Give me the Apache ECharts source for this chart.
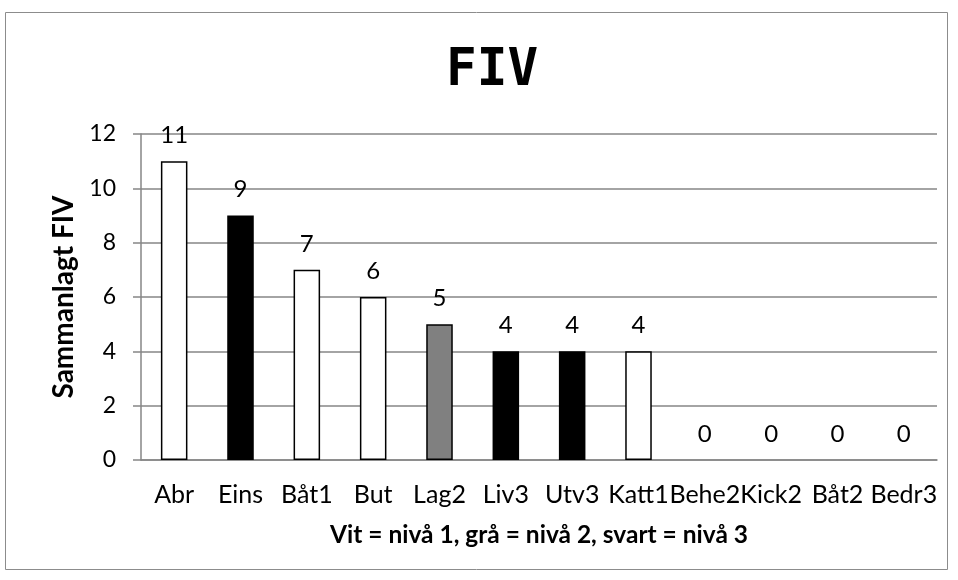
<!DOCTYPE html>
<html>
<head>
<meta charset="utf-8">
<script src="https://cdn.jsdelivr.net/npm/echarts@6/dist/echarts.min.js"></script>
<style>
  html, body { margin: 0; padding: 0; background: #fff; }
  #chart { width: 958px; height: 580px; }
</style>
</head>
<body>
<div id="chart"></div>
<script>
// Categories and their summed FIV values
const categories = ['Abr', 'Eins', 'Båt1', 'But', 'Lag2', 'Liv3', 'Utv3', 'Katt1', 'Behe2', 'Kick2', 'Båt2', 'Bedr3'];
const values = [11, 9, 7, 6, 5, 4, 4, 4, 0, 0, 0, 0];
// Level of each category: 1 = white, 2 = grey, 3 = black
const levels = [1, 3, 1, 1, 2, 3, 3, 1, 2, 2, 2, 3];
const yTicks = [0, 2, 4, 6, 8, 10, 12];

const levelFill = { 1: '#ffffff', 2: '#808080', 3: '#000000' };
const textFont = 'Lato, "Open Sans", sans-serif';

const chart = echarts.init(document.getElementById('chart'), null, { renderer: 'canvas' });

const barData = values.map((v, i) => ({
  value: v,
  itemStyle: {
    color: levelFill[levels[i]],
    borderColor: '#000',
    borderWidth: v > 0 ? 1.5 : 0
  }
}));

chart.setOption({
  animation: false,
  backgroundColor: '#fff',
  graphic: [{
    type: 'rect',
    shape: { x: 5.5, y: 12.5, width: 942, height: 557 },
    style: { fill: 'none', stroke: '#8c8c8c', lineWidth: 1 },
    silent: true
  }],
  title: {
    text: 'FIV',
    left: 441,
    top: 41,
    textStyle: { fontFamily: '"DejaVu Sans Mono", monospace', fontWeight: 'bold', fontSize: 51, color: '#000' }
  },
  grid: { left: 141, right: 21, top: 134, bottom: 120 },
  xAxis: {
    type: 'category',
    data: categories,
    name: 'Vit = nivå 1, grå = nivå 2, svart = nivå 3',
    nameLocation: 'middle',
    nameGap: 63,
    nameTextStyle: { fontFamily: textFont, fontWeight: 'bold', fontSize: 24.5, color: '#000' },
    axisLine: { lineStyle: { color: '#868686', width: 1.5 } },
    axisTick: { show: false },
    axisLabel: { fontFamily: textFont, fontSize: 25, color: '#000', margin: 22, interval: 0 }
  },
  yAxis: {
    type: 'value',
    min: yTicks[0],
    max: yTicks[yTicks.length - 1],
    interval: 2,
    name: 'Sammanlagt FIV',
    nameLocation: 'middle',
    nameGap: 57,
    nameRotate: 90,
    nameTextStyle: { fontFamily: textFont, fontWeight: 'bold', fontSize: 28, color: '#000' },
    axisLine: { show: true, lineStyle: { color: '#868686', width: 1.5 } },
    axisTick: { show: true, inside: false, length: 8, lineStyle: { color: '#868686', width: 1.5 } },
    axisLabel: { fontFamily: textFont, fontSize: 23, color: '#000', margin: 25 },
    splitLine: { show: true, lineStyle: { color: '#868686', width: 1.5 } }
  },
  series: [{
    type: 'bar',
    data: barData,
    barWidth: '40%',
    label: {
      show: true,
      position: 'top',
      distance: 14,
      fontFamily: textFont,
      fontSize: 24,
      color: '#000'
    }
  }]
});
</script>
</body>
</html>
